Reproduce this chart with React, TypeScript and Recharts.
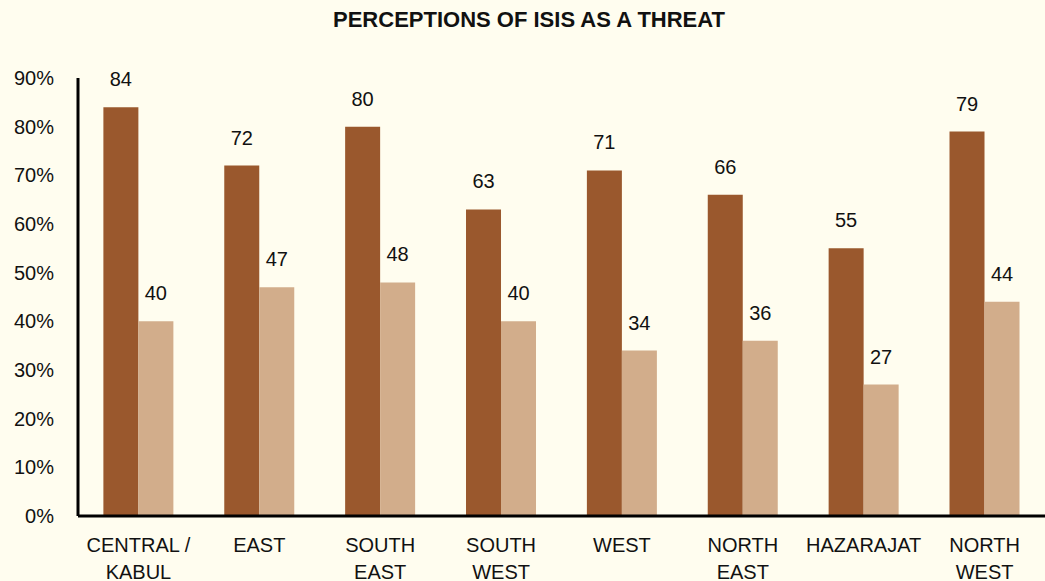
import { BarChart, Bar, XAxis, YAxis, LabelList } from "recharts";

const REGIONS = ["CENTRAL /\nKABUL", "EAST", "SOUTH\nEAST", "SOUTH\nWEST", "WEST", "NORTH\nEAST", "HAZARAJAT", "NORTH\nWEST"];
const THREAT = [84, 72, 80, 63, 71, 66, 55, 79];
const SERIOUS = [40, 47, 48, 40, 34, 36, 27, 44];
const Y_TICKS = [0, 10, 20, 30, 40, 50, 60, 70, 80, 90];

const FONT = "'Liberation Sans', Arial, sans-serif";
const BG = "#FFFDEF";

function RegionTick(props: any) {
  const { x, y, payload } = props;
  const lines = String(payload.value).split("\n");
  return (
    <text x={x} y={y} textAnchor="middle" fontSize={20} fill="#111" fontFamily={FONT}>
      {lines.map((l, i) => (
        <tspan key={i} x={x} dy={i === 0 ? 28 : 27}>
          {l}
        </tspan>
      ))}
    </text>
  );
}

export default function App() {
  const data = REGIONS.map((r, i) => ({ region: r, threat: THREAT[i], serious: SERIOUS[i] }));

  return (
    <div style={{ position: "absolute", left: 0, top: 0, width: 1045, height: 581, background: BG, fontFamily: FONT }}>
      <div
        style={{
          position: "absolute",
          top: 7,
          left: 0,
          width: 1058,
          textAlign: "center",
          fontWeight: "bold",
          fontSize: 22,
          color: "#111",
        }}
      >
        PERCEPTIONS OF ISIS AS A THREAT
      </div>
      <BarChart
        width={1045}
        height={581}
        data={data}
        margin={{ top: 78, right: 0, left: 0, bottom: 0 }}
        barGap={0}
        barCategoryGap="21%"
      >
        <XAxis
          dataKey="region"
          interval={0}
          tickLine={false}
          axisLine={{ stroke: "#000", strokeWidth: 3 }}
          tick={<RegionTick />}
          height={65}
        />
        <YAxis
          domain={[0, 90]}
          ticks={Y_TICKS}
          tickFormatter={(v) => `${v}%`}
          tickLine={false}
          axisLine={{ stroke: "#000", strokeWidth: 3 }}
          width={78}
          tickMargin={18}
          tick={{ fontSize: 20, fill: "#111", fontFamily: FONT }}
        />
        <Bar dataKey="threat" fill="#9A582D" isAnimationActive={false}>
          <LabelList dataKey="threat" position="top" offset={21} fontSize={20} fill="#111" fontFamily={FONT} />
        </Bar>
        <Bar dataKey="serious" fill="#D2AD8B" isAnimationActive={false}>
          <LabelList dataKey="serious" position="top" offset={21} fontSize={20} fill="#111" fontFamily={FONT} />
        </Bar>
      </BarChart>
    </div>
  );
}
